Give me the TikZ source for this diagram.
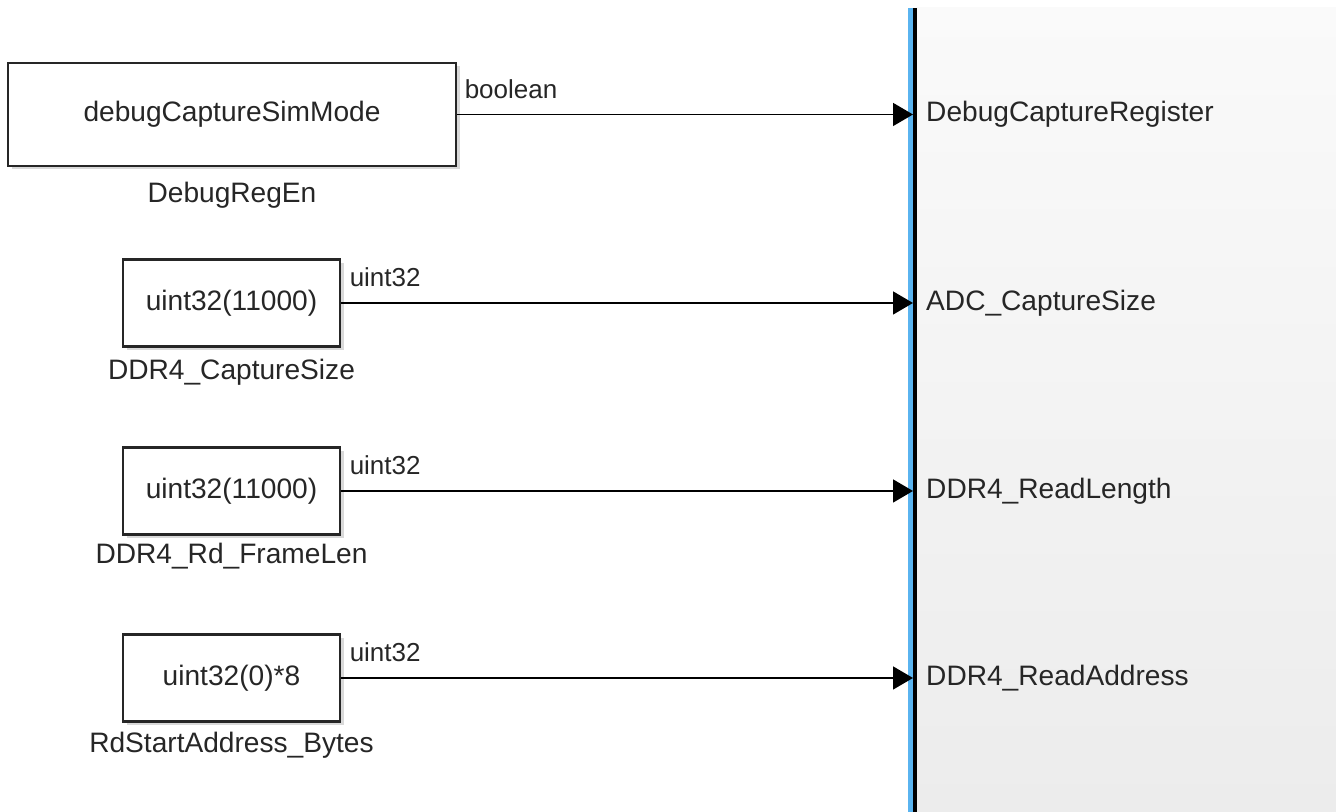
\documentclass[tikz,border=0pt]{standalone}
\usepackage{fontspec}
\setmainfont{Liberation Sans}
\usetikzlibrary{arrows.meta,positioning,shadows,calc}
\definecolor{barblue}{HTML}{5AB4F0}
\definecolor{subtop}{HTML}{FAFAFA}
\definecolor{subbot}{HTML}{ECECEC}
\definecolor{txtgray}{HTML}{262626}

\begin{document}
\begin{tikzpicture}[
    blk/.style={draw=black!85,line width=0.6pt,fill=white,align=center,
      font=\fontsize{8}{9.6}\selectfont,text=txtgray,
      drop shadow={shadow xshift=0.35mm,shadow yshift=-0.35mm,opacity=0.3}},
    blkname/.style={font=\fontsize{8}{9.6}\selectfont,text=txtgray},
    sigtype/.style={font=\fontsize{7.4}{9}\selectfont,text=txtgray,anchor=base west,inner sep=0pt},
    portname/.style={font=\fontsize{8}{9.6}\selectfont,text=txtgray,anchor=west,inner sep=0pt},
    sig/.style={-{Triangle[length=2mm,width=2.3mm]},line width=0.45pt,black}
]
\useasboundingbox (0,0) rectangle (13.36,8.12);

% subsystem side
\shade[top color=subtop,bottom color=subbot] (9.165,0) rectangle (13.36,8.04);
\fill[barblue] (9.08,0) rectangle (9.13,8.04);
\fill[black] (9.13,0) rectangle (9.165,8.04);

% constant blocks
\node[blk,minimum width=4.48cm,minimum height=1.03cm] (simmode) at (2.32,6.975) {debugCaptureSimMode};
\node[blk,minimum width=2.17cm,minimum height=0.87cm] (capsize) at (2.315,5.09) {uint32(11000)};
\node[blk,minimum width=2.17cm,minimum height=0.87cm] (framelen) at (2.315,3.21) {uint32(11000)};
\node[blk,minimum width=2.17cm,minimum height=0.87cm] (startaddr) at (2.315,1.34) {uint32(0)*8};

\node[blkname] (simmodename) at (2.32,6.17) {DebugRegEn};
\node[blkname] (capsizename) at (2.315,4.40) {DDR4\_CaptureSize};
\node[blkname] (framelenname) at (2.315,2.56) {DDR4\_Rd\_FrameLen};
\node[blkname] (startaddrname) at (2.315,0.67) {RdStartAddress\_Bytes};

% inports of the subsystem
\coordinate (in1) at (9.13,6.975);
\coordinate (in2) at (9.13,5.09);
\coordinate (in3) at (9.13,3.21);
\coordinate (in4) at (9.13,1.34);
\node[portname] (port1) at (9.255,6.975) {DebugCaptureRegister};
\node[portname] (port2) at (9.255,5.09) {ADC\_CaptureSize};
\node[portname] (port3) at (9.255,3.21) {DDR4\_ReadLength};
\node[portname] (port4) at (9.255,1.34) {DDR4\_ReadAddress};

\draw[sig] (simmode.east) -- (in1);
\draw[sig] (capsize.east) -- (in2);
\draw[sig] (framelen.east) -- (in3);
\draw[sig] (startaddr.east) -- (in4);

\node[sigtype] at ($(simmode.east)+(0.07,0.16)$) {boolean};
\node[sigtype] at ($(capsize.east)+(0.08,0.16)$) {uint32};
\node[sigtype] at ($(framelen.east)+(0.08,0.16)$) {uint32};
\node[sigtype] at ($(startaddr.east)+(0.08,0.16)$) {uint32};
\end{tikzpicture}
\end{document}
